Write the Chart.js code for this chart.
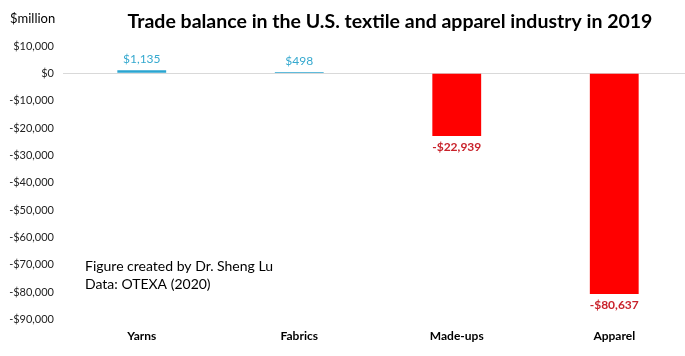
<!DOCTYPE html>
<html>
<head>
<meta charset="utf-8">
<script src="https://cdn.jsdelivr.net/npm/chart.js@4/dist/chart.umd.min.js"></script>
<style>
html,body{margin:0;padding:0;background:#fff;overflow:hidden;width:685px;height:356px;}
#wrap{position:relative;width:693px;height:356px;}
</style>
</head>
<body>
<div id="wrap"><canvas id="c" width="693" height="356"></canvas></div>
<script>
const categories = ['Yarns', 'Fabrics', 'Made-ups', 'Apparel'];
const tradeBalance = [1135, 498, -22939, -80637];
const valueLabels = ['$1,135', '$498', '-$22,939', '-$80,637'];
const yTickMin = -90000, yTickMax = 10000, yTickStep = 10000;
const titleText = 'Trade balance in the U.S. textile and apparel industry in 2019';
const unitText = '$million';
const noteLines = ['Figure created by Dr. Sheng Lu', 'Data: OTEXA (2020)'];

const FONT = 'Lato, "Open Sans", sans-serif';
const POS = '#2AA5D1', NEG = '#FF0000';

const extras = {
  id: 'extras',
  afterDatasetsDraw(chart) {
    const ctx = chart.ctx;
    const meta = chart.getDatasetMeta(0);
    ctx.save();
    meta.data.forEach((bar, i) => {
      const v = tradeBalance[i];
      ctx.textAlign = 'center';
      if (v >= 0) {
        ctx.fillStyle = '#36A9CF';
        ctx.font = '12px ' + FONT;
        ctx.textBaseline = 'bottom';
        ctx.fillText(valueLabels[i], bar.x, bar.y - 5);
      } else {
        ctx.fillStyle = '#C9222B';
        ctx.font = 'bold 12px ' + FONT;
        ctx.textBaseline = 'top';
        ctx.fillText(valueLabels[i], bar.x, bar.y + 5);
      }
    });
    // title
    ctx.fillStyle = '#000';
    ctx.textAlign = 'center';
    ctx.textBaseline = 'middle';
    ctx.font = 'bold 19.5px ' + FONT;
    ctx.fillText(titleText, 390, 22);
    // unit
    ctx.textAlign = 'left';
    ctx.font = '13px ' + FONT;
    ctx.fillText(unitText, 10, 19);
    // notes
    ctx.font = '14px ' + FONT;
    ctx.fillText(noteLines[0], 85, 266);
    ctx.fillText(noteLines[1], 85, 284);
    ctx.restore();
  }
};

new Chart(document.getElementById('c'), {
  type: 'bar',
  data: {
    labels: categories,
    datasets: [{
      data: tradeBalance,
      backgroundColor: tradeBalance.map(v => v >= 0 ? POS : NEG),
      borderWidth: 0,
      categoryPercentage: 1,
      barPercentage: 0.31
    }]
  },
  options: {
    responsive: false,
    animation: false,
    layout: { padding: { top: 46, right: 0, bottom: 4, left: 0 } },
    plugins: { legend: { display: false }, tooltip: { enabled: false }, title: { display: false } },
    scales: {
      x: {
        grid: { display: false, drawTicks: false },
        border: { display: false },
        ticks: { color: '#000', padding: 9, font: { family: FONT, size: 12, weight: 'bold' } }
      },
      y: {
        min: yTickMin, max: yTickMax,
        afterFit(scale) { scale.width = 63; },
        grid: {
          drawTicks: false,
          color: c => (c.tick && c.tick.value === 0) ? '#D9D9D9' : 'rgba(0,0,0,0)',
          lineWidth: 1
        },
        border: { display: false },
        ticks: {
          stepSize: yTickStep,
          padding: 9,
          color: '#222',
          font: { family: FONT, size: 11 },
          callback: v => (v < 0 ? '-$' : '$') + Math.abs(v).toLocaleString('en-US')
        }
      }
    }
  },
  plugins: [extras]
});
</script>
</body>
</html>
